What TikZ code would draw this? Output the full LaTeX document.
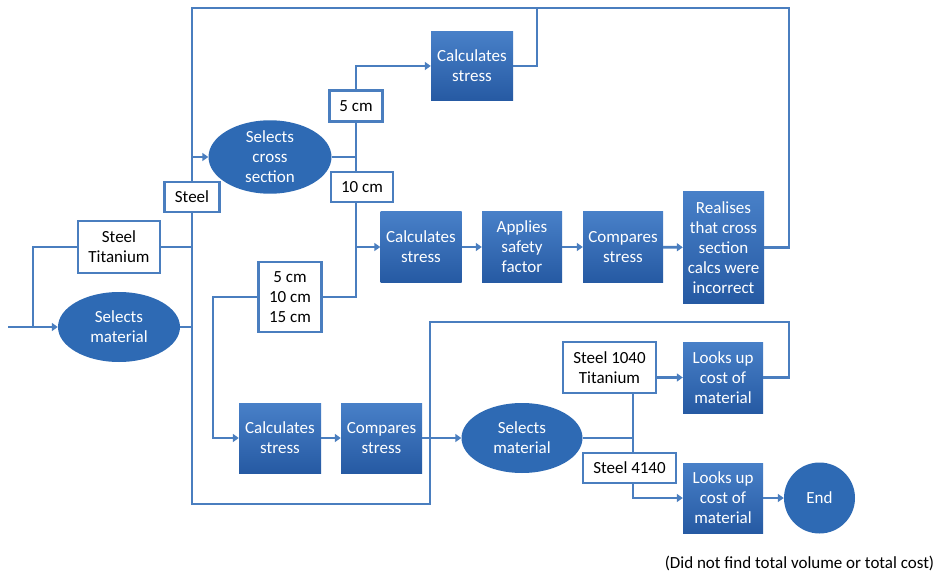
\documentclass[tikz,border=0pt]{standalone}
\usepackage{fontspec}
\setmainfont{Carlito}
\usetikzlibrary{shapes.geometric,arrows.meta,calc}
\definecolor{lineblue}{RGB}{74,126,191}
\definecolor{boxtop}{RGB}{72,128,200}
\definecolor{boxbot}{RGB}{38,90,163}
\definecolor{ellblue}{RGB}{46,106,180}
\tikzset{
  conn/.style={draw=lineblue, line width=2.8pt},
  arr/.style={conn, -{Triangle[length=6pt,width=8pt]}},
  txt/.style={font=\fontsize{17}{20}\selectfont, align=center, inner sep=0pt},
  bluebox/.style={txt, rectangle, top color=boxtop, bottom color=boxbot, draw=none, text=white},
  blueell/.style={txt, ellipse, fill=ellblue, text=white},
  labbox/.style={txt, rectangle, draw=lineblue, line width=2.2pt, fill=white, text=black},
}
\begin{document}
\begin{tikzpicture}[x=1pt,y=-1pt]
\useasboundingbox[fill=white] (0,0) rectangle (934,572);

% nodes
\node[blueell, minimum width=122, minimum height=70] (sm1) at (119,327) {Selects\\material};
\node[labbox, minimum width=82, minimum height=52] (st) at (119,247) {Steel\\Titanium};
\node[labbox, minimum width=55, minimum height=30] (steel) at (192,197) {Steel};
\node[blueell, minimum width=123, minimum height=70] (scs) at (270,157) {Selects\\cross\\section};
\node[labbox, minimum width=53, minimum height=31] (c5) at (356,106) {5 cm};
\node[labbox, minimum width=62, minimum height=30] (c10) at (362,187) {10 cm};
\node[bluebox, minimum width=82, minimum height=69] (cs1) at (472,66) {Calculates\\stress};
\node[bluebox, minimum width=81, minimum height=70] (cs2) at (421,247) {Calculates\\stress};
\node[bluebox, minimum width=80, minimum height=70] (asf) at (522,247) {Applies\\safety\\factor};
\node[bluebox, minimum width=80, minimum height=70] (cmp1) at (623,247) {Compares\\stress};
\node[bluebox, minimum width=81, minimum height=111] (real) at (723.5,247.5) {Realises\\that cross\\section\\calcs were\\incorrect};
\node[labbox, minimum width=63, minimum height=70] (c51015) at (290,297) {5 cm\\10 cm\\15 cm};
\node[bluebox, minimum width=82, minimum height=70] (cs3) at (280,438) {Calculates\\stress};
\node[bluebox, minimum width=81, minimum height=70] (cmp2) at (381.5,438) {Compares\\stress};
\node[blueell, minimum width=121, minimum height=70] (sm2) at (522,438) {Selects\\material};
\node[labbox, minimum width=93, minimum height=51] (s1040) at (609.5,367.5) {Steel 1040\\Titanium};
\node[bluebox, minimum width=80, minimum height=71] (lu1) at (723,377.5) {Looks up\\cost of\\material};
\node[labbox, minimum width=93, minimum height=30] (s4140) at (629.5,468) {Steel 4140};
\node[bluebox, minimum width=80, minimum height=70] (lu2) at (723,498) {Looks up\\cost of\\material};
\node[blueell, circle, minimum size=71] (endc) at (819.5,498) {End};
\node[txt, text=black] (cap) at (799.5,563) {(Did not find total volume or total cost)};

% junction coordinates
\coordinate (in) at (8,327);
\coordinate (jin) at (33,327);
\coordinate (trunk) at (192,327);
\coordinate (topL) at (192,8);
\coordinate (topR) at (789,8);
\coordinate (j1) at (537,8);
\coordinate (botL) at (192,504);
\coordinate (jb) at (430,438);
\coordinate (jl) at (213,297);
\coordinate (jr) at (789,377.5);
\coordinate (jt) at (430,322);
\coordinate (v2) at (633,438);

% connectors
\draw[arr] (in) -- (sm1.west);
\draw[conn] (st.west) -| (jin);
\draw[conn] (st.east) -- (st.east -| steel.south);
\draw[conn] (sm1.east) -- (trunk);
\draw[arr] (real.east) -| (topR) -- (topL) |- (scs.west);
\draw[conn] (topL |- scs.west) -- (steel.north);
\draw[conn] (cs1.east) -| (j1);
\draw[conn] (jb) |- (botL) -- (steel.south);
\draw[conn] (scs.east) -- (scs.east -| c5.south);
\draw[arr] (c5.north) |- (cs1.west);
\draw[conn] (c5.south) -- (c5.south |- c10.north);
\draw[arr] (c5.south |- c10.south) |- (cs2.west);
\draw[conn] (c51015.east) -| (c5.south |- cs2.west);
\draw[arr] (c51015.west) -- (jl) |- (cs3.west);
\draw[arr] (cs2) -- (asf);
\draw[arr] (asf) -- (cmp1);
\draw[arr] (cmp1) -- (real);
\draw[arr] (cs3) -- (cmp2);
\draw[arr] (cmp2.east) -- (sm2.west);
\draw[conn] (lu1.east) -- (jr) |- (jt) -- (jb);
\draw[conn] (sm2.east) -- (v2);
\draw[conn] (v2 |- s1040.south) -- (v2 |- s4140.north);
\draw[arr] (v2 |- s4140.south) |- (lu2.west);
\draw[arr] (s1040.east |- lu1.west) -- (lu1.west);
\draw[arr] (lu2) -- (endc);
\end{tikzpicture}
\end{document}
